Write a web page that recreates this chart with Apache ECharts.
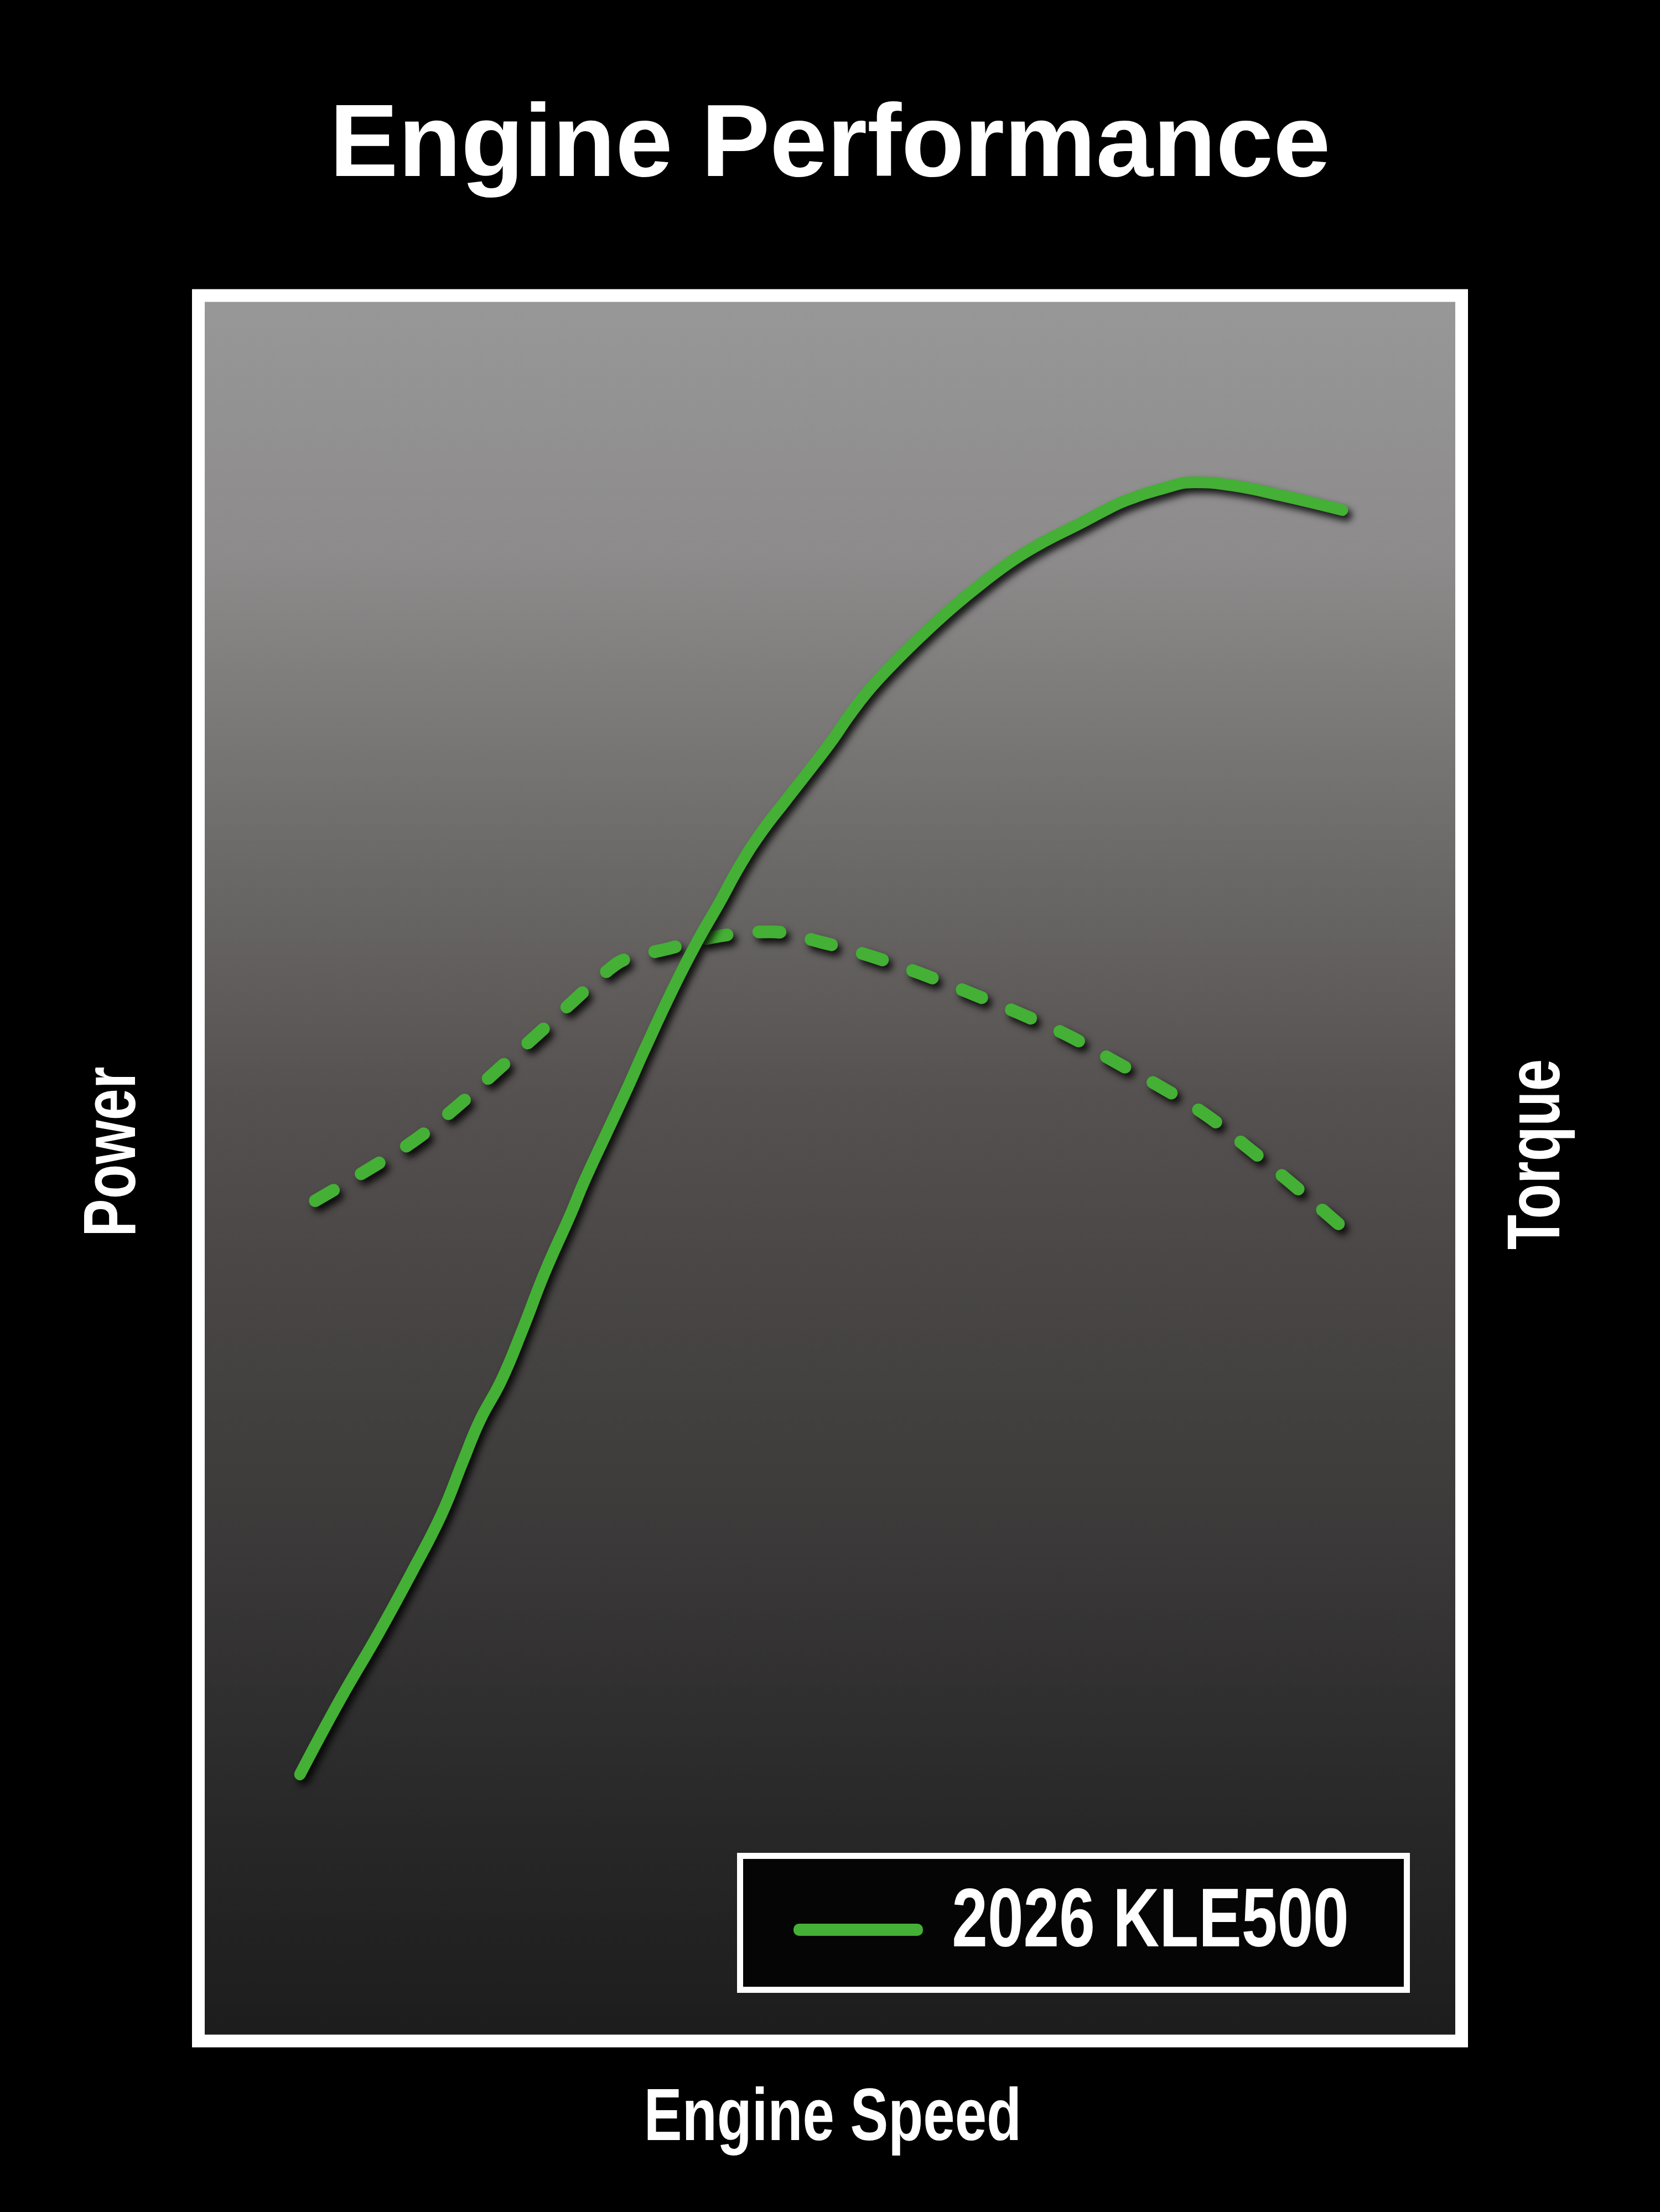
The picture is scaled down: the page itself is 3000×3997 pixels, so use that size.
<!DOCTYPE html>
<html>
<head>
<meta charset="utf-8">
<style>
  html, body { margin: 0; padding: 0; background: #000; }
  #chart { width: 3000px; height: 3997px; }
</style>
<script src="https://cdn.jsdelivr.net/npm/echarts@6/dist/echarts.min.js"></script>
</head>
<body>
<div id="chart"></div>
<script>
// ---- data (relative engine speed %, relative output %) ----
const seriesName = '2026 KLE500';
const titleText = 'Engine Performance';
const xName = 'Engine Speed';
const yLeftName = 'Power';
const yRightName = 'Torque';

const powerX = [8.04, 11.24, 14.26, 16.93, 19.25, 20.96, 22.27, 23.98, 25.65, 27.40, 29.50, 30.51, 32.48, 34.14, 35.24, 37.60, 39.49, 41.24, 42.86, 44.52, 46.50, 48.69, 50.22, 51.45, 52.98, 54.82, 57.31, 59.77, 62.22, 64.67, 67.13, 69.58, 71.73, 73.30, 76.37, 78.82, 81.89, 85.57, 90.56];
const powerY = [15.27, 19.58, 23.35, 26.90, 30.17, 33.24, 35.53, 37.84, 40.73, 43.99, 47.42, 49.19, 52.27, 54.87, 56.67, 60.32, 62.98, 65.20, 67.33, 69.20, 71.07, 73.10, 74.56, 75.86, 77.31, 78.77, 80.55, 82.17, 83.62, 84.92, 85.97, 86.86, 87.68, 88.22, 88.95, 89.30, 89.11, 88.57, 87.71];

const torqueX = [9.26, 13.73, 17.24, 20.57, 23.68, 26.87, 29.94, 32.48, 33.79, 37.12, 41.24, 45.27, 49.47, 53.46, 57.45, 61.34, 65.24, 69.05, 72.65, 76.37, 79.87, 83.16, 86.44, 90.30];
const torqueY = [48.14, 50.05, 51.66, 53.60, 55.63, 57.69, 59.75, 61.37, 61.97, 62.57, 63.30, 63.55, 62.92, 62.10, 61.08, 59.97, 58.80, 57.53, 56.07, 54.58, 53.00, 51.13, 49.19, 46.78];

const pair = (xs, ys) => xs.map((x, i) => [x, ys[i]]);

const green = '#44b035';
const sansBold = "'Liberation Sans', Arial, sans-serif";
const shadow = { shadowColor: 'rgba(0,0,0,0.85)', shadowBlur: 13, shadowOffsetX: 7, shadowOffsetY: 9 };
const narrow = 0.77; // horizontal squeeze to imitate a condensed face

const chart = echarts.init(document.getElementById('chart'), null, { renderer: 'canvas' });

const hiddenAxis = {
  type: 'value', min: 0, max: 100,
  axisLine: { show: false }, axisTick: { show: false },
  axisLabel: { show: false }, splitLine: { show: false }
};

function condensedText(text, x, y, size, rotation) {
  return {
    type: 'text', x: x, y: y, rotation: rotation || 0, scaleX: narrow, scaleY: 1,
    silent: true, z: 10,
    style: {
      text: text, fill: '#fff', fontSize: size, fontWeight: 'bold', fontFamily: sansBold,
      align: 'center', verticalAlign: 'middle'
    }
  };
}

chart.setOption({
  backgroundColor: '#000',
  animation: false,
  color: [green],
  title: {
    text: titleText,
    left: 'center',
    top: 169,
    textStyle: { color: '#fff', fontSize: 186, fontWeight: 'bold', fontFamily: sansBold }
  },
  grid: {
    show: true,
    left: 358.5, top: 534, width: 2283, height: 3154,
    borderColor: '#ffffff',
    borderWidth: 23,
    backgroundColor: {
      type: 'linear', x: 0, y: 0, x2: 0, y2: 1,
      colorStops: [
        { offset: 0.0, color: '#989898' },
        { offset: 0.15, color: '#8d8b8b' },
        { offset: 0.34, color: '#696765' },
        { offset: 0.46, color: '#555150' },
        { offset: 0.56, color: '#4a4646' },
        { offset: 0.72, color: '#3a3838' },
        { offset: 0.88, color: '#272727' },
        { offset: 1.0, color: '#1c1c1c' }
      ]
    }
  },
  xAxis: Object.assign({}, hiddenAxis),
  yAxis: [
    Object.assign({}, hiddenAxis, { position: 'left' }),
    Object.assign({}, hiddenAxis, { position: 'right' })
  ],
  graphic: [
    condensedText(xName, 1505, 3830, 134),
    condensedText(yLeftName, 207, 2081, 133, Math.PI / 2),
    condensedText(yRightName, 2781, 2086, 135, Math.PI / 2),
    {
      type: 'group', z: 20,
      children: [
        { type: 'rect', silent: true,
          shape: { x: 1337.5, y: 3353.5, width: 1205, height: 242 },
          style: { fill: '#050505', stroke: '#ffffff', lineWidth: 11 } },
        { type: 'rect', silent: true,
          shape: { x: 1434, y: 3476, width: 234, height: 22, r: 10 },
          style: { fill: green } },
        Object.assign(condensedText(seriesName, 2079, 3475, 151), { z: 21 })
      ]
    }
  ],
  series: [
    {
      name: seriesName,
      type: 'line',
      yAxisIndex: 0,
      data: pair(powerX, powerY),
      smooth: 0.45,
      showSymbol: false,
      itemStyle: { color: green },
      lineStyle: Object.assign({ color: green, width: 21, cap: 'round', join: 'round' }, shadow),
      z: 3
    },
    {
      name: seriesName,
      type: 'line',
      yAxisIndex: 1,
      data: pair(torqueX, torqueY),
      smooth: 0.4,
      showSymbol: false,
      itemStyle: { color: green },
      lineStyle: Object.assign({ color: green, width: 23, type: [38, 58], cap: 'round', join: 'round' }, shadow),
      z: 2
    }
  ]
});
</script>
</body>
</html>
